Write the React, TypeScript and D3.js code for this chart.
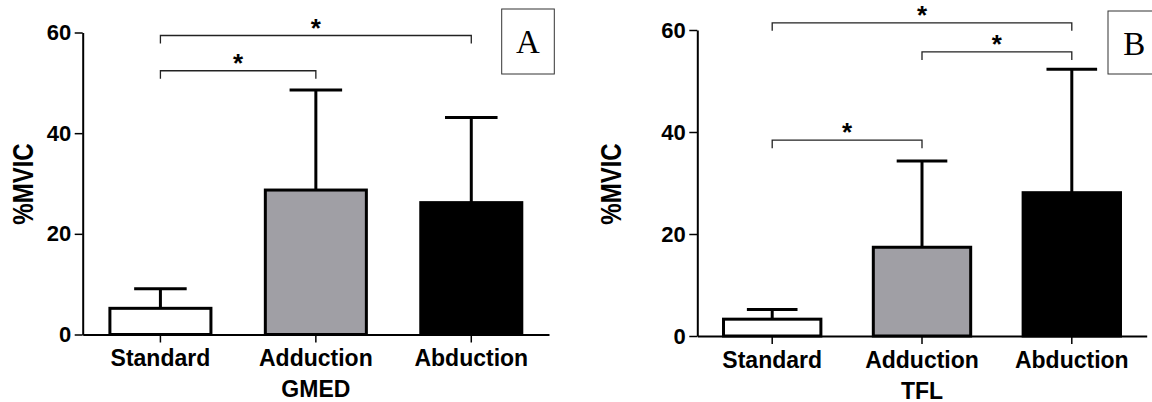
import React, { useEffect, useRef } from 'react';
import * as d3 from 'd3';

const categories = ['Standard', 'Adduction', 'Abduction'];
const gmedMean = [5.2, 28.7, 26.2];
const gmedSD = [3.9, 19.9, 16.9];
const tflMean = [3.3, 17.4, 28.1];
const tflSD = [1.9, 16.9, 24.2];
const yTicks = [0, 20, 40, 60];
const barColors = ['#ffffff', '#a09fa5', '#000000'];
// significance brackets: [from, to, height in %MVIC]
const gmedSig = [[0, 2, 59.4], [0, 1, 52.4]];
const tflSig = [[0, 2, 61.4], [1, 2, 55.7], [0, 1, 38.4]];

const sans = '"Liberation Sans", Arial, sans-serif';

const panels = [
  { mean: gmedMean, sd: gmedSD, sig: gmedSig, muscle: 'GMED', letter: 'A',
    x0: 82.7, x1: 549, y0: 334.5, y1: 32.5, labelX: 22, box: [501.7, 9, 52.6, 65] },
  { mean: tflMean, sd: tflSD, sig: tflSig, muscle: 'TFL', letter: 'B',
    x0: 697.3, x1: 1146.7, y0: 336, y1: 30, labelX: 610, box: [1108, 11, 52.6, 63] },
];

function drawPanel(svg: any, p: any) {
  const x = d3.scaleBand().domain(categories).range([p.x0, p.x1])
    .paddingInner(0.35).paddingOuter(0.175);
  const y = d3.scaleLinear().domain([0, 60]).range([p.y0, p.y1]);
  const cx = (i: number) => (x(categories[i]) as number) + x.bandwidth() / 2;
  const g = svg.append('g');

  // bars
  g.selectAll('rect.bar').data(categories).enter().append('rect')
    .attr('class', 'bar')
    .attr('x', (d: string) => x(d))
    .attr('y', (d: string, i: number) => y(p.mean[i]))
    .attr('width', x.bandwidth())
    .attr('height', (d: string, i: number) => y(0) - y(p.mean[i]))
    .attr('fill', (d: string, i: number) => barColors[i])
    .attr('stroke', '#000')
    .attr('stroke-width', 3);

  // error bars (upper only)
  const capW = x.bandwidth() * 0.52;
  categories.forEach((c, i) => {
    const top = y(p.mean[i] + p.sd[i]);
    g.append('line').attr('x1', cx(i)).attr('x2', cx(i))
      .attr('y1', y(p.mean[i])).attr('y2', top)
      .attr('stroke', '#000').attr('stroke-width', 3);
    g.append('line').attr('x1', cx(i) - capW / 2).attr('x2', cx(i) + capW / 2)
      .attr('y1', top).attr('y2', top)
      .attr('stroke', '#000').attr('stroke-width', 3);
  });

  // axes
  const ya = g.append('g').attr('transform', `translate(${p.x0},0)`)
    .call(d3.axisLeft(y).tickValues(yTicks).tickSize(8).tickPadding(3.5).tickSizeOuter(0));
  ya.attr('font-family', sans).attr('font-size', 22).attr('font-weight', 'bold');
  ya.select('.domain').attr('stroke-width', 2);
  ya.selectAll('.tick line').attr('stroke-width', 1.5);
  ya.selectAll('.tick text').attr('fill', '#000');

  const xa = g.append('g').attr('transform', `translate(0,${p.y0})`)
    .call(d3.axisBottom(x).tickSize(8).tickPadding(7.5).tickSizeOuter(0));
  xa.attr('font-family', sans).attr('font-size', 23).attr('font-weight', 'bold');
  xa.select('.domain').attr('stroke-width', 2);
  xa.selectAll('.tick line').attr('stroke-width', 1.5);
  xa.selectAll('.tick text').attr('fill', '#000');

  // axis titles
  g.append('text')
    .attr('x', (p.x0 + p.x1) / 2).attr('y', p.y0 + 62.5)
    .attr('text-anchor', 'middle')
    .attr('font-family', sans).attr('font-size', 23).attr('font-weight', 'bold')
    .text(p.muscle);
  g.append('text')
    .attr('transform', `translate(${p.labelX},184) rotate(-90) scale(1,1.26)`)
    .attr('text-anchor', 'middle').attr('dy', '0.36em')
    .attr('font-family', sans).attr('font-size', 24).attr('font-weight', 'bold')
    .text('%MVIC');

  // significance brackets
  p.sig.forEach((s: number[]) => {
    const ly = y(s[2]);
    g.append('path')
      .attr('d', `M${cx(s[0])},${ly + 8}V${ly}H${cx(s[1])}V${ly + 8}`)
      .attr('fill', 'none').attr('stroke', '#222').attr('stroke-width', 1.3);
    g.append('text')
      .attr('x', (cx(s[0]) + cx(s[1])) / 2).attr('y', ly + 1)
      .attr('text-anchor', 'middle')
      .attr('font-family', sans).attr('font-size', 26).attr('font-weight', 'bold')
      .text('*');
  });

  // panel letter
  const [bx, by, bw, bh] = p.box;
  g.append('rect').attr('x', bx).attr('y', by).attr('width', bw).attr('height', bh)
    .attr('fill', '#fff').attr('stroke', '#333').attr('stroke-width', 1);
  g.append('text')
    .attr('x', bx + bw / 2).attr('y', by + 44)
    .attr('text-anchor', 'middle')
    .attr('font-family', '"Liberation Serif", "Times New Roman", serif').attr('font-size', 33)
    .text(p.letter);
}

export default function App() {
  const ref = useRef<SVGSVGElement>(null);

  useEffect(() => {
    const svg = d3.select(ref.current);
    svg.selectAll('*').remove();
    panels.forEach(p => drawPanel(svg, p));
  }, []);

  return (
    <svg ref={ref} width={1152} height={402}
      style={{ position: 'absolute', left: 0, top: 0, background: '#fff' }} />
  );
}
